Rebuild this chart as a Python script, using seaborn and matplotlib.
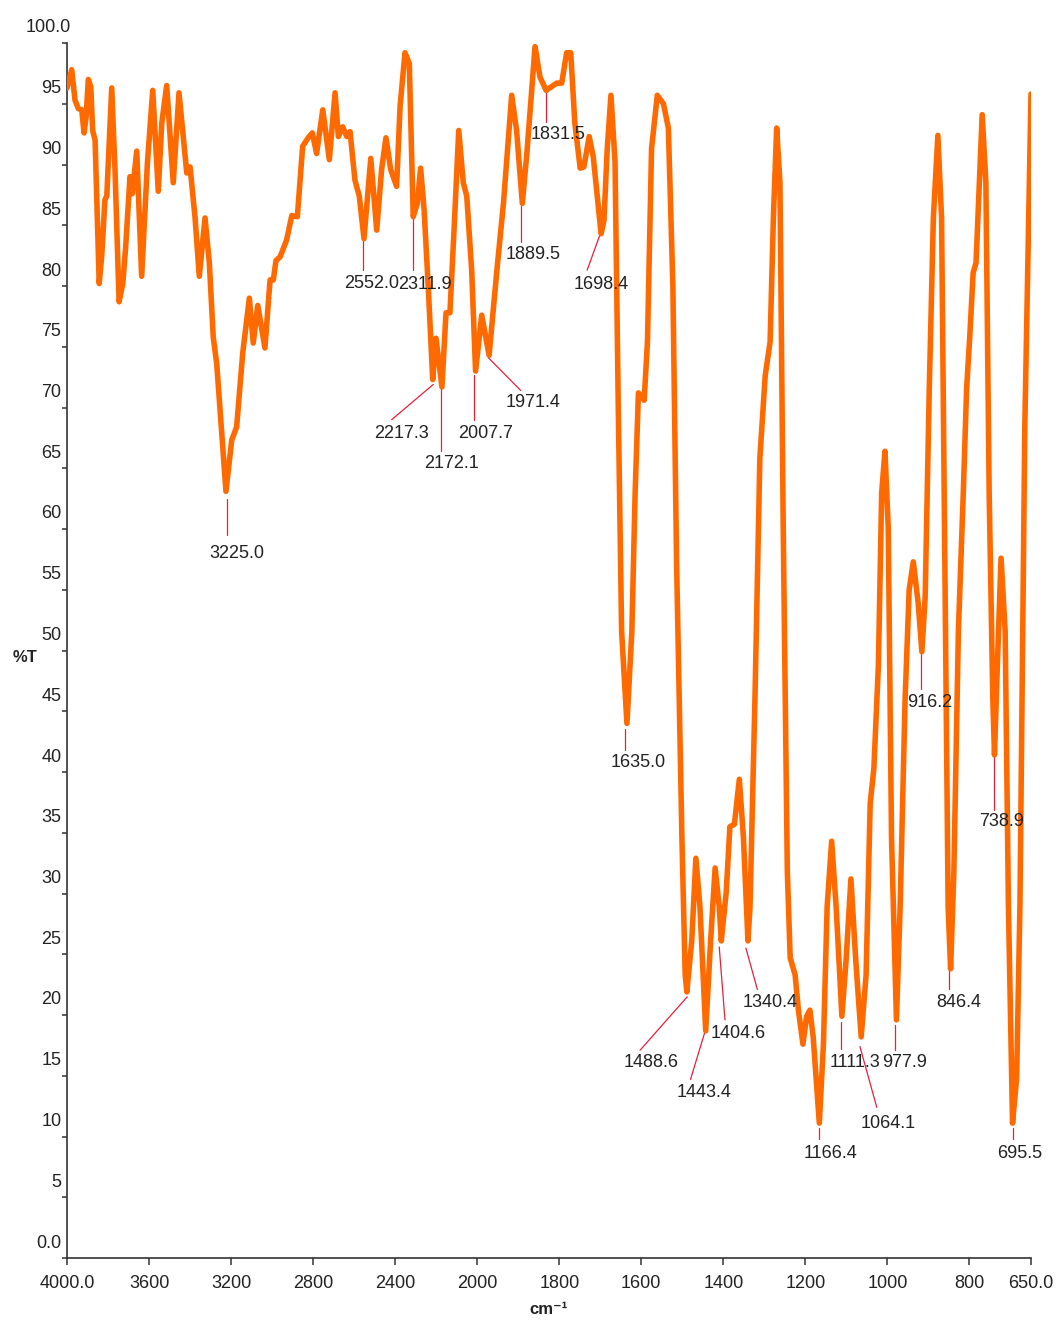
import numpy as np
import pandas as pd
import seaborn as sns
import matplotlib.pyplot as plt
from matplotlib import transforms
from matplotlib.ticker import NullLocator

# IR spectrum (wavenumber cm-1, %T)
wavenumber = [4000, 3977, 3961, 3945, 3928, 3917, 3907, 3896, 3884, 3875,
              3863, 3843, 3831, 3815, 3806, 3782, 3766, 3746, 3728, 3714,
              3693, 3682, 3660, 3636, 3608, 3582, 3555, 3538, 3514, 3482,
              3454, 3433, 3416, 3400, 3376, 3355, 3327, 3306, 3287, 3270,
              3225, 3197, 3173, 3143, 3111, 3092, 3070, 3035, 3010, 2994,
              2981, 2961, 2929, 2904, 2877, 2851, 2824, 2804, 2783, 2753,
              2721, 2693, 2677, 2656, 2636, 2620, 2596, 2575, 2552, 2519,
              2490, 2466, 2445, 2422, 2393, 2376, 2352, 2331, 2312, 2292,
              2276, 2259, 2238, 2217, 2201, 2172, 2152, 2133, 2113, 2090,
              2068, 2051, 2027, 2008, 1989, 1971, 1952, 1936, 1916, 1904,
              1890, 1879, 1859, 1847, 1832, 1806, 1794, 1782, 1772, 1762,
              1749, 1740, 1727, 1717, 1698, 1691, 1683, 1674, 1664, 1656,
              1648, 1635, 1623, 1615, 1607, 1599, 1593, 1585, 1575, 1561,
              1546, 1534, 1523, 1514, 1501, 1493, 1489, 1477, 1467, 1457,
              1443, 1431, 1420, 1410, 1405, 1393, 1384, 1373, 1361, 1351,
              1340, 1335, 1323, 1311, 1298, 1286, 1278, 1270, 1262, 1254,
              1244, 1237, 1225, 1217, 1206, 1197, 1189, 1181, 1166, 1156,
              1147, 1136, 1125, 1111, 1101, 1089, 1077, 1064, 1052, 1042,
              1033, 1022, 1014, 1006, 998, 990, 978, 969, 957, 947,
              937, 925, 916, 908, 898, 888, 877, 868, 860, 852,
              846, 838, 827, 815, 807, 799, 791, 784, 776, 769,
              760, 752, 743, 739, 732, 723, 713, 705, 695, 685,
              677, 665, 650]
transmittance = [96.3, 97.8, 95.3, 94.6, 94.5, 92.6, 93.9, 97.0, 96.4, 92.8,
                 92.0, 80.2, 82.4, 87.1, 87.4, 96.3, 89.6, 78.7, 80.2, 83.2,
                 89.0, 87.6, 91.1, 80.8, 90.1, 96.1, 87.8, 93.4, 96.5, 88.5,
                 95.9, 92.3, 89.3, 89.8, 85.7, 80.8, 85.6, 81.9, 75.8, 73.6,
                 63.1, 67.3, 68.4, 74.5, 79.0, 75.3, 78.4, 74.9, 80.5, 80.5,
                 82.1, 82.4, 83.8, 85.8, 85.7, 91.5, 92.2, 92.6, 90.9, 94.5,
                 90.4, 95.9, 92.3, 93.1, 92.3, 92.7, 88.7, 87.4, 83.9, 90.5,
                 84.6, 89.6, 92.2, 89.6, 88.2, 94.8, 99.2, 98.3, 85.7, 86.8,
                 89.7, 86.3, 79.7, 72.3, 75.7, 71.7, 77.8, 77.8, 84.6, 92.8,
                 88.5, 87.4, 81.3, 73.0, 77.6, 74.3, 81.3, 86.8, 95.7, 92.8,
                 86.8, 90.9, 99.7, 97.2, 96.1, 96.7, 96.7, 99.2, 99.2, 93.4,
                 89.7, 89.8, 92.3, 90.6, 84.3, 85.4, 91.3, 95.7, 90.2, 69.7,
                 51.6, 44.0, 51.6, 63.0, 71.2, 70.9, 70.6, 75.4, 91.3, 95.7,
                 95.0, 93.0, 80.0, 57.3, 34.6, 23.3, 21.9, 26.1, 32.9, 28.9,
                 18.7, 26.1, 32.1, 28.9, 26.1, 30.1, 35.5, 35.7, 39.4, 34.6,
                 26.1, 28.9, 45.9, 65.8, 72.6, 75.4, 85.6, 93.0, 88.5, 60.1,
                 31.8, 24.7, 23.3, 20.4, 17.6, 19.9, 20.4, 18.2, 11.1, 17.6,
                 28.9, 34.3, 28.9, 19.9, 24.4, 31.2, 24.4, 18.2, 23.3, 37.4,
                 40.3, 48.8, 63.0, 66.4, 60.1, 34.6, 19.6, 28.9, 45.9, 55.0,
                 57.3, 53.9, 49.9, 54.4, 71.5, 85.6, 92.4, 85.6, 57.3, 28.9,
                 23.8, 31.8, 51.6, 63.0, 71.5, 76.0, 81.1, 81.9, 88.5, 94.1,
                 88.5, 63.0, 45.9, 41.4, 48.8, 57.6, 51.6, 28.9, 11.1, 14.8,
                 28.9, 68.6, 95.8]

# peak labels: text, leader start (cm-1, %T), leader end, text centre
peak_labels = ['3225.0', '2552.0', '2311.9', '2217.3', '2172.1', '2007.7',
               '1971.4', '1889.5', '1831.5', '1698.4', '1635.0', '1488.6',
               '1443.4', '1404.6', '1340.4', '1166.4', '1111.3', '1064.1',
               '977.9', '916.2', '846.4', '738.9', '695.5']
peak_x0 = [3220, 2557, 2314, 2214, 2178, 2015, 1973, 1893, 1832, 1701, 1640, 1488,
           1445, 1410, 1345, 1168, 1114, 1067, 981, 917, 850, 740, 694]
peak_y0 = [62.5, 83.8, 85.6, 71.9, 71.7, 72.7, 74.1, 86.6, 96.0, 84.2, 43.5, 21.5,
           18.6, 25.6, 25.5, 10.7, 19.4, 17.4, 19.2, 49.8, 23.7, 41.2, 10.7]
peak_x1 = [3220, 2557, 2314, 2417, 2178, 2015, 1894, 1893, 1832, 1732, 1640, 1603,
           1480, 1396, 1317, 1168, 1114, 1026, 981, 917, 850, 740, 694]
peak_y1 = [59.5, 81.3, 81.3, 69.0, 66.4, 69.0, 71.4, 83.6, 93.5, 81.3, 41.8, 17.1,
           14.7, 19.6, 22.1, 9.8, 17.2, 12.4, 17.1, 46.8, 22.1, 36.9, 9.8]
label_x = [3171, 2513, 2254, 2368, 2124, 1979, 1865, 1864, 1804, 1698, 1608, 1575,
           1447, 1365, 1285, 1139, 1080, 998, 958, 896, 827, 721, 678]
label_y = [58.0, 80.2, 80.1, 67.9, 65.4, 67.9, 70.4, 82.6, 92.5, 80.1, 40.8, 16.1,
           13.6, 18.5, 21.0, 8.6, 16.1, 11.1, 16.1, 45.7, 21.0, 35.9, 8.6]

x_ticks = [4000, 3600, 3200, 2800, 2400, 2000, 1800, 1600, 1400, 1200, 1000, 800, 650]
x_ticklabels = ['4000.0', '3600', '3200', '2800', '2400', '2000', '1800', '1600',
                '1400', '1200', '1000', '800', '650.0']
y_ticks = list(range(0, 101, 5))
y_ticklabels = ['0.0'] + [str(v) for v in y_ticks[1:-1]] + ['100.0']

sns.set_style('ticks')
plt.rcParams['font.family'] = ['Liberation Sans', 'DejaVu Sans']

fig = plt.figure(figsize=(10.63, 13.22), dpi=100)
ax = fig.add_axes([67 / 1063, 64 / 1322, 964 / 1063, 1215 / 1322])


# spectrometer style axis: half the scale above 2000 cm-1
def fwd(x):
    x = np.asarray(x, dtype=float)
    return np.where(x > 2000, 2000 + (x - 2000) / 2, x)


def inv(u):
    u = np.asarray(u, dtype=float)
    return np.where(u > 2000, 2000 + (u - 2000) * 2, u)


ax.set_xscale('function', functions=(fwd, inv))

df = pd.DataFrame({'cm-1': wavenumber, '%T': transmittance})
sns.lineplot(data=df, x='cm-1', y='%T', ax=ax, sort=False, estimator=None,
             color='#ff6a00', linewidth=4, zorder=3,
             solid_joinstyle='round', solid_capstyle='round')

for lab, x0, y0, x1, y1, tx, ty in zip(peak_labels, peak_x0, peak_y0, peak_x1,
                                       peak_y1, label_x, label_y):
    ax.plot([x0, x1], [y0, y1], color='#e8203a', lw=0.9, zorder=2)
    ax.text(tx, ty, lab, ha='center', va='center', fontsize=13,
            color='#222222', zorder=4)

ax.set_xlim(4000, 650)
ax.set_ylim(0, 100)
ax.set_xticks(x_ticks, x_ticklabels)
ax.set_yticks(y_ticks, y_ticklabels)
ax.xaxis.set_minor_locator(NullLocator())
ax.yaxis.set_minor_locator(NullLocator())

ax.tick_params(axis='x', length=5, width=1.1, pad=7, labelsize=13,
               color='#333333', labelcolor='#222222')
ax.tick_params(axis='y', length=3.6, width=1.1, pad=0.5, labelsize=13,
               color='#333333', labelcolor='#222222')

# y tick labels sit above their ticks in the original
for lbl in ax.get_yticklabels():
    dx = 10 if lbl.get_text() == '100.0' else 0
    lbl.set_transform(transforms.offset_copy(lbl.get_transform(), fig=fig,
                                             x=dx, y=17, units='dots'))

for side in ['left', 'bottom']:
    ax.spines[side].set_color('#333333')
    ax.spines[side].set_linewidth(1.2)
sns.despine(ax=ax)

ax.set_xlabel('cm⁻¹', fontsize=12, fontweight='bold', color='#222222')
ax.xaxis.set_label_coords(0.5, -52 / 1215)
ax.xaxis.label.set_va('center')
ax.set_ylabel('%T', fontsize=12, fontweight='bold', color='#222222', rotation=0)
ax.yaxis.set_label_coords(-42 / 964, 0.494)
ax.yaxis.label.set_va('center')
ax.yaxis.label.set_ha('center')

fig.savefig('out.png', dpi=100)
